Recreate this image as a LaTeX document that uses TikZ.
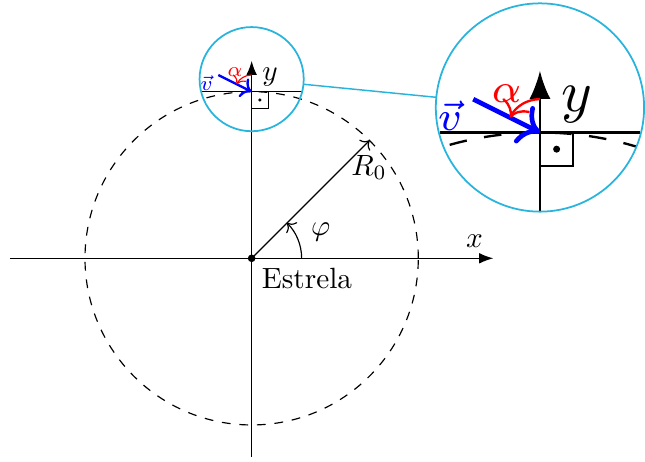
\documentclass[tikz,border=0pt]{standalone}
\usetikzlibrary{arrows.meta,calc,spy}
\definecolor{lenscyan}{RGB}{40,180,220}

\begin{document}
\begin{tikzpicture}[
  axis/.style={-Latex},
  orbit/.style={dashed},
  vel/.style={->,thick,draw=blue},
  ang/.style={->,draw=red},
  spy using outlines={circle,lenscyan,magnification=2,size=2.5cm,connect spies,
    every spy on node/.append style={line width=0.6pt},
    every spy in node/.append style={line width=0.6pt},
    spy connection path={\draw[lenscyan,line width=0.5pt] (tikzspyonnode) -- (tikzspyinnode);}}
]
\useasboundingbox (-3.02,-2.44) rectangle (4.62,3.10);

\coordinate (O) at (0,0);
\coordinate (P) at (0,2);
\coordinate (xL) at (-2.9,0);
\coordinate (xR) at (2.9,0);
\coordinate (yB) at (0,-2.38);
\coordinate (yT) at (0,2.37);
\coordinate (R) at (45:2);
\coordinate (tL) at (-0.6,2);
\coordinate (tR) at (0.6,2);
\coordinate (vS) at (-0.4,2.2);

\draw[orbit] (O) circle (2);
\draw[axis] (xL) -- (xR) node[above left] (xlab) {$x$};
\draw[axis] (yB) -- (yT);
\draw[->] (O) -- (R);
\node (rlab) at (1.41,1.09) {$R_0$};
\draw[->] (0.6,0) arc (0:45:0.6);
\node (philab) at (0.83,0.32) {$\varphi$};
\fill (O) circle (1.3pt);
\node[below right] (star) at (O) {Estrela};

\draw (tL) -- (tR);
\draw (P) rectangle ++(0.2,-0.2);
\fill (0.1,1.9) circle (0.6pt);
\draw[vel] (vS) -- (P);
\draw[ang] (0,2.2) arc (90:153.4:0.2);
\node[red,font=\scriptsize] (alab) at (-0.2,2.23) {$\alpha$};
\node[blue,font=\scriptsize] (vlab) at (-0.54,2.10) {$\vec{v}$};
\node (ylab) at (0.22,2.17) {$y$};

\spy on (0,2.15) in node (zoom) at (3.46,1.81);
\end{tikzpicture}
\end{document}
